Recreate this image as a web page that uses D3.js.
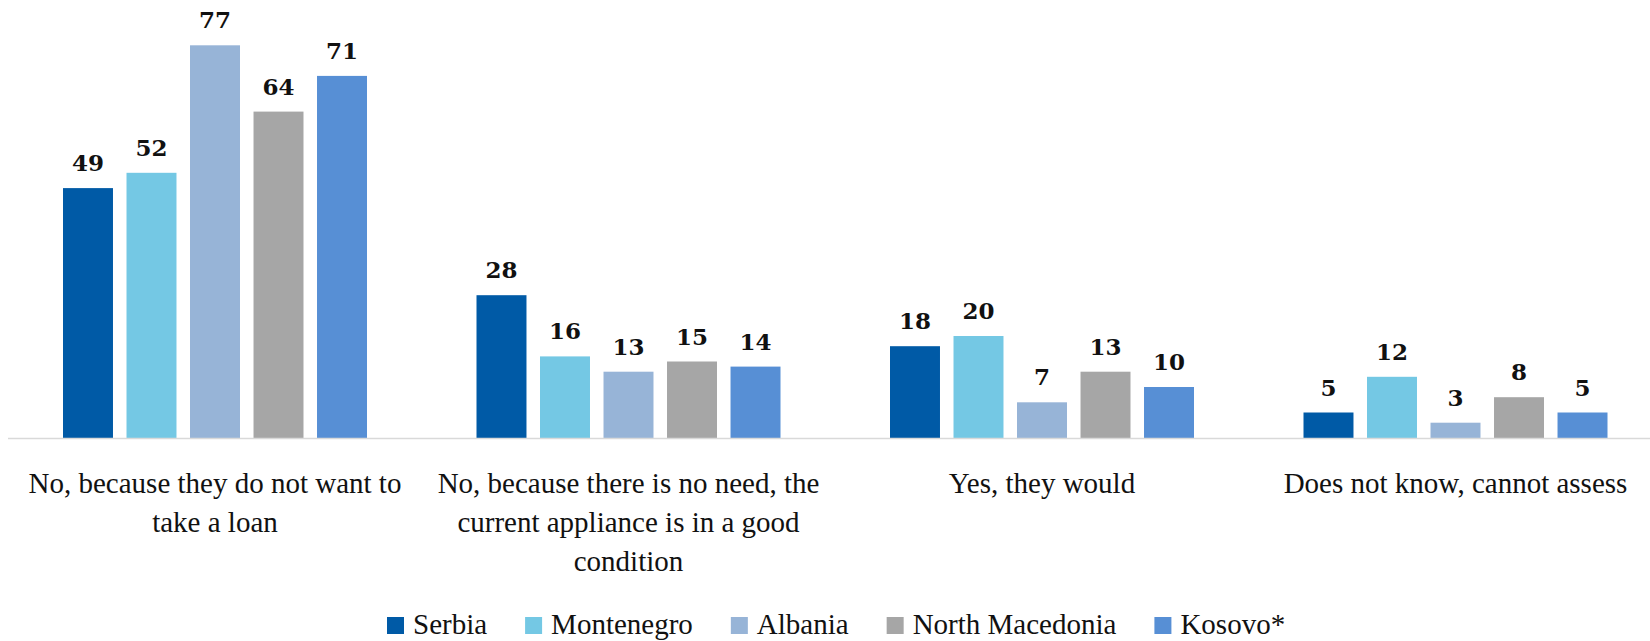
<!DOCTYPE html>
<html>
<head>
<meta charset="utf-8">
<script src="https://cdn.jsdelivr.net/npm/d3@7"></script>
<style>
  body { margin: 0; background: #fff; }
  svg { display: block; }
</style>
</head>
<body>
<svg id="chart" width="1650" height="641"></svg>
<script>
var width = 1650;
var height = 641;

var categories = ["No, because they do not want to take a loan",
                  "No, because there is no need, the current appliance is in a good condition",
                  "Yes, they would",
                  "Does not know, cannot assess"];
var categoryLines = [["No, because they do not want to", "take a loan"],
                     ["No, because there is no need, the", "current appliance is in a good", "condition"],
                     ["Yes, they would"],
                     ["Does not know, cannot assess"]];
var seriesNames = ["Serbia", "Montenegro", "Albania", "North Macedonia", "Kosovo*"];
var seriesColors = ["#005aa6", "#74c8e4", "#97b4d7", "#a6a6a6", "#578fd5"];

var serbia = [49, 28, 18, 5];
var montenegro = [52, 16, 20, 12];
var albania = [77, 13, 7, 3];
var northMacedonia = [64, 15, 13, 8];
var kosovo = [71, 14, 10, 5];
var seriesValues = [serbia, montenegro, albania, northMacedonia, kosovo];

var serifFont = "'Liberation Serif', 'Times New Roman', serif";

var svg = d3.select("#chart");
var g = svg.append("g");

var x0 = d3.scaleBand()
	.domain(categories)
	.range([8.25, 8.25 + 4 * 413.5])
	.padding(0);

var x1 = d3.scaleBand()
	.domain(seriesNames)
	.range([54.75, x0.bandwidth() - 54.75])
	.paddingInner(0.213)
	.paddingOuter(0);

var yScale = d3.scaleLinear()
	.domain([0, 80])
	.range([438, 30]);

var colorScale = d3.scaleOrdinal()
	.domain(seriesNames)
	.range(seriesColors);

var rows = [];
seriesNames.forEach(function(s, i) {
	categories.forEach(function(c, j) {
		rows.push({ series: s, category: c, value: seriesValues[i][j] });
	});
});

g.selectAll(".bar")
	.data(rows)
	.enter().append("rect")
		.attr("class", "bar")
		.attr("x", function(d) { return x0(d.category) + x1(d.series); })
		.attr("y", function(d) { return yScale(d.value); })
		.attr("width", x1.bandwidth())
		.attr("height", function(d) { return yScale(0) - yScale(d.value); })
		.attr("fill", function(d) { return colorScale(d.series); });

g.selectAll(".value-label")
	.data(rows)
	.enter().append("text")
		.attr("class", "value-label")
		.attr("x", function(d) { return x0(d.category) + x1(d.series) + x1.bandwidth() / 2; })
		.attr("y", function(d) { return yScale(d.value) - 17; })
		.style("text-anchor", "middle")
		.style("font-family", "'DejaVu Serif', serif")
		.style("font-weight", "bold")
		.style("font-size", "23px")
		.style("fill", "#111")
		.text(function(d) { return d.value; });

// baseline
g.append("line")
	.attr("x1", 8)
	.attr("x2", width)
	.attr("y1", yScale(0) + 0.5)
	.attr("y2", yScale(0) + 0.5)
	.style("stroke", "#d9d9d9")
	.style("stroke-width", 1.5);

// category labels
var catLabel = g.selectAll(".cat-label")
	.data(categories)
	.enter().append("text")
		.attr("class", "cat-label")
		.attr("x", function(d) { return x0(d) + x0.bandwidth() / 2; })
		.attr("y", 493)
		.style("text-anchor", "middle")
		.style("font-family", serifFont)
		.style("font-size", "29px")
		.style("fill", "#111");

catLabel.selectAll("tspan")
	.data(function(d, i) { return categoryLines[i]; })
	.enter().append("tspan")
		.attr("x", function() { var p = d3.select(this.parentNode).datum(); return x0(p) + x0.bandwidth() / 2; })
		.attr("dy", function(d, i) { return i === 0 ? 0 : 39; })
		.text(function(d) { return d; });

// legend
var legend = g.append("g").attr("class", "legend");
var lx = 387;
seriesNames.forEach(function(s) {
	legend.append("rect")
		.attr("x", lx)
		.attr("y", 617)
		.attr("width", 17)
		.attr("height", 17)
		.attr("fill", colorScale(s));
	var t = legend.append("text")
		.attr("x", lx + 26)
		.attr("y", 634)
		.style("font-family", serifFont)
		.style("font-size", "29px")
		.style("fill", "#111")
		.text(s);
	lx = lx + 26 + t.node().getComputedTextLength() + 38;
});
</script>
</body>
</html>
